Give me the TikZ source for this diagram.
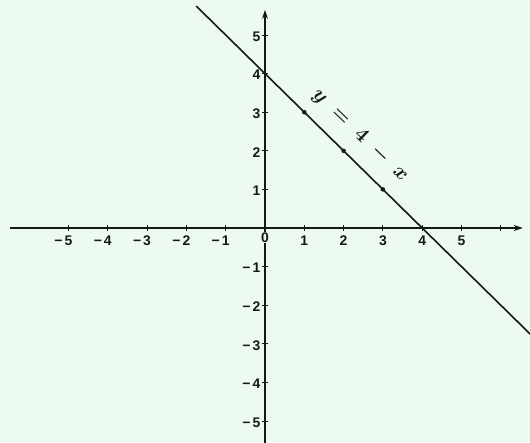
\documentclass[tikz,border=0pt]{standalone}
\usepackage{fontspec}
\newfontfamily\ticksfont{Liberation Sans}
\usetikzlibrary{arrows.meta}
\definecolor{paper}{RGB}{236,250,241}
\definecolor{ink}{RGB}{22,24,22}
\begin{document}
\begin{tikzpicture}[x=39.3bp,y=38.6bp,
  axis/.style={ink,line width=1.5bp,-{Stealth[length=9bp,width=6bp]}},
  tickmark/.style={ink,line width=1bp},
  graphline/.style={ink,line width=1.6bp},
  xlab/.style={font=\ticksfont\bfseries\fontsize{14}{14}\selectfont,text=ink,inner sep=0pt,anchor=center,yshift=-12.5bp},
  ylab/.style={font=\ticksfont\bfseries\fontsize{14}{14}\selectfont,text=ink,inner sep=0pt,anchor=east,xshift=-4.5bp,yshift=-1.5bp},
  dotpt/.style={circle,fill=ink,inner sep=0pt,minimum size=4.5bp},
  eqlab/.style={text=ink,font=\fontsize{22}{24}\selectfont\boldmath,rotate=-44,inner sep=0pt}]
\fill[paper] (-6.743,-5.544) rectangle (6.743,5.907);
\useasboundingbox (-6.743,-5.544) rectangle (6.743,5.907);
% axes
\coordinate (xl) at (-6.49,0);
\coordinate (xr) at (6.56,0);
\coordinate (yb) at (0,-5.6);
\coordinate (yt) at (0,5.65);
\draw[axis] (xl) -- (xr);
\draw[axis] (yb) -- (yt);
% ticks
\foreach \i in {-5,...,-1,1,2,3,4,5,6}
  \draw[tickmark] (\i,0) ++(0,-3bp) -- ++(0,6bp);
\foreach \j in {-5,...,-1,1,2,3,4,5}
  \draw[tickmark] (0,\j) ++(-3bp,0) -- ++(6bp,0);
% x labels
\foreach \i in {1,...,5}
  \node[xlab] (xl\i) at (\i,0) {\i};
\foreach \i in {1,...,5}
  \node[xlab] (xm\i) at (-\i,0) {\llap{−\hspace{2bp}}\i};
\node[xlab,yshift=3bp,fill=paper,inner sep=1bp] (o) at (0,0) {0};
% y labels
\foreach \j in {1,...,5}
  \node[ylab] (yl\j) at (0,\j) {\j};
\foreach \j in {1,...,5}
  \node[ylab] (ym\j) at (0,-\j) {−\hspace{2bp}\j};
% graph
\coordinate (gs) at (-1.75,5.75);
\coordinate (ge) at (6.75,-2.75);
\draw[graphline] (gs) -- (ge);
\node[dotpt] (p1) at (1,3) {};
\node[dotpt] (p2) at (2,2) {};
\node[dotpt] (p3) at (3,1) {};
\node[eqlab] (eq) at (2.42,2.4) {$y\;=\;4\;-\;x$};
\end{tikzpicture}
\end{document}
